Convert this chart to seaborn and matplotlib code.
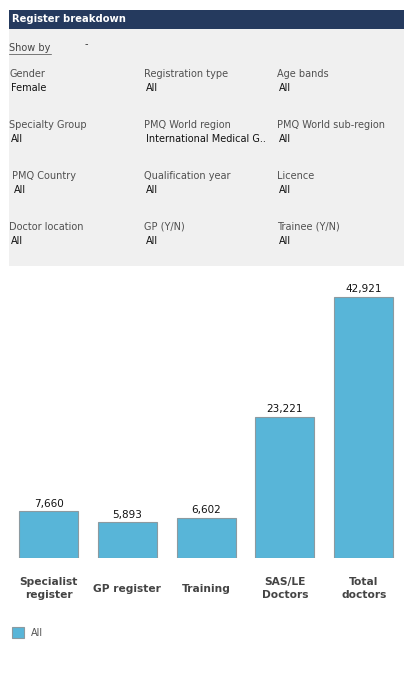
import pandas as pd
import matplotlib.pyplot as plt
import matplotlib.patches as mpatches
import seaborn as sns

# Register breakdown values (female IMGs)
categories = ['Specialist\nregister', 'GP register', 'Training', 'SAS/LE\nDoctors', 'Total\ndoctors']
doctors = [7660, 5893, 6602, 23221, 42921]

# Filter panel entries: (label, value)
filter_labels = ['Gender', 'Registration type', 'Age bands',
                 'Specialty Group', 'PMQ World region', 'PMQ World sub-region',
                 'PMQ Country', 'Qualification year', 'Licence',
                 'Doctor location', 'GP (Y/N)', 'Trainee (Y/N)']
filter_values = ['Female', 'All', 'All',
                 'All', 'International Medical G..', 'All',
                 'All', 'All', 'All',
                 'All', 'All', 'All']

W, H = 418, 680
bar_color = '#58B5D8'

sns.set_style('white')
plt.rcParams['font.family'] = ['DejaVu Sans']

fig = plt.figure(figsize=(W / 100, H / 100), dpi=100)


def fx(px):
    return px / W


def fy(py):
    return 1 - py / H


# header bar and grey filter panel
fig.patches.append(mpatches.Rectangle((fx(9), fy(29)), fx(395), 19 / H, transform=fig.transFigure,
                                      facecolor='#253A5E', edgecolor='none', zorder=0))
fig.patches.append(mpatches.Rectangle((fx(9), fy(266)), fx(395), 237 / H, transform=fig.transFigure,
                                      facecolor='#F0F0F0', edgecolor='none', zorder=0))
fig.text(fx(12), fy(19), 'Register breakdown', color='white', fontsize=7.2,
         fontweight='bold', va='center', ha='left')

fig.text(fx(9), fy(48), 'Show by', color='#444444', fontsize=7, va='center', ha='left')
fig.lines.append(plt.Line2D([fx(9), fx(51)], [fy(54), fy(54)], transform=fig.transFigure,
                            color='#777777', lw=0.7))
fig.text(fx(85), fy(44), '-', color='#333333', fontsize=7, va='center', ha='left')

col_x = [9, 144, 277]
row_y = [74, 125, 176, 227]
for i, (lab, val) in enumerate(zip(filter_labels, filter_values)):
    r, c = divmod(i, 3)
    x0 = col_x[c] + (3 if (r == 2 and c == 0) else 0)
    fig.text(fx(x0), fy(row_y[r]), lab, color='#505050', fontsize=7, va='center', ha='left')
    fig.text(fx(x0 + 2), fy(row_y[r] + 14), val, color='#111111', fontsize=7, va='center', ha='left')

# bar chart
df = pd.DataFrame({'category': categories, 'doctors': doctors})
ymax = 45000
ax = fig.add_axes([fx(9.1), fy(558), fx(394), (558 - 284) / H])
sns.barplot(data=df, x='category', y='doctors', color=bar_color, saturation=1,
            width=0.75, edgecolor='#8C9AA0', linewidth=0.8, ax=ax)
ax.set_xlim(-0.5, 4.5)
ax.set_ylim(0, ymax)
for i, v in enumerate(doctors):
    ax.text(i, v + 400, f'{v:,}', ha='center', va='bottom', fontsize=7.5, color='#111111')
ax.set_xlabel('')
ax.set_ylabel('')
ax.set_yticks([])
ax.tick_params(axis='x', length=0, pad=22)
for lbl in ax.get_xticklabels():
    lbl.set_fontweight('bold')
    lbl.set_fontsize(7.7)
    lbl.set_color('#444444')
    lbl.set_verticalalignment('center')
    lbl.set_linespacing(1.3)
sns.despine(ax=ax, left=True, bottom=True)
ax.patch.set_alpha(0)

# legend
fig.patches.append(mpatches.Rectangle((fx(12), fy(638)), fx(12), 11 / H, transform=fig.transFigure,
                                      facecolor=bar_color, edgecolor='#8C9AA0', lw=0.8))
fig.text(fx(31), fy(633), 'All', color='#555555', fontsize=7, va='center', ha='left')

fig.savefig('out.png', dpi=100, facecolor='white')
